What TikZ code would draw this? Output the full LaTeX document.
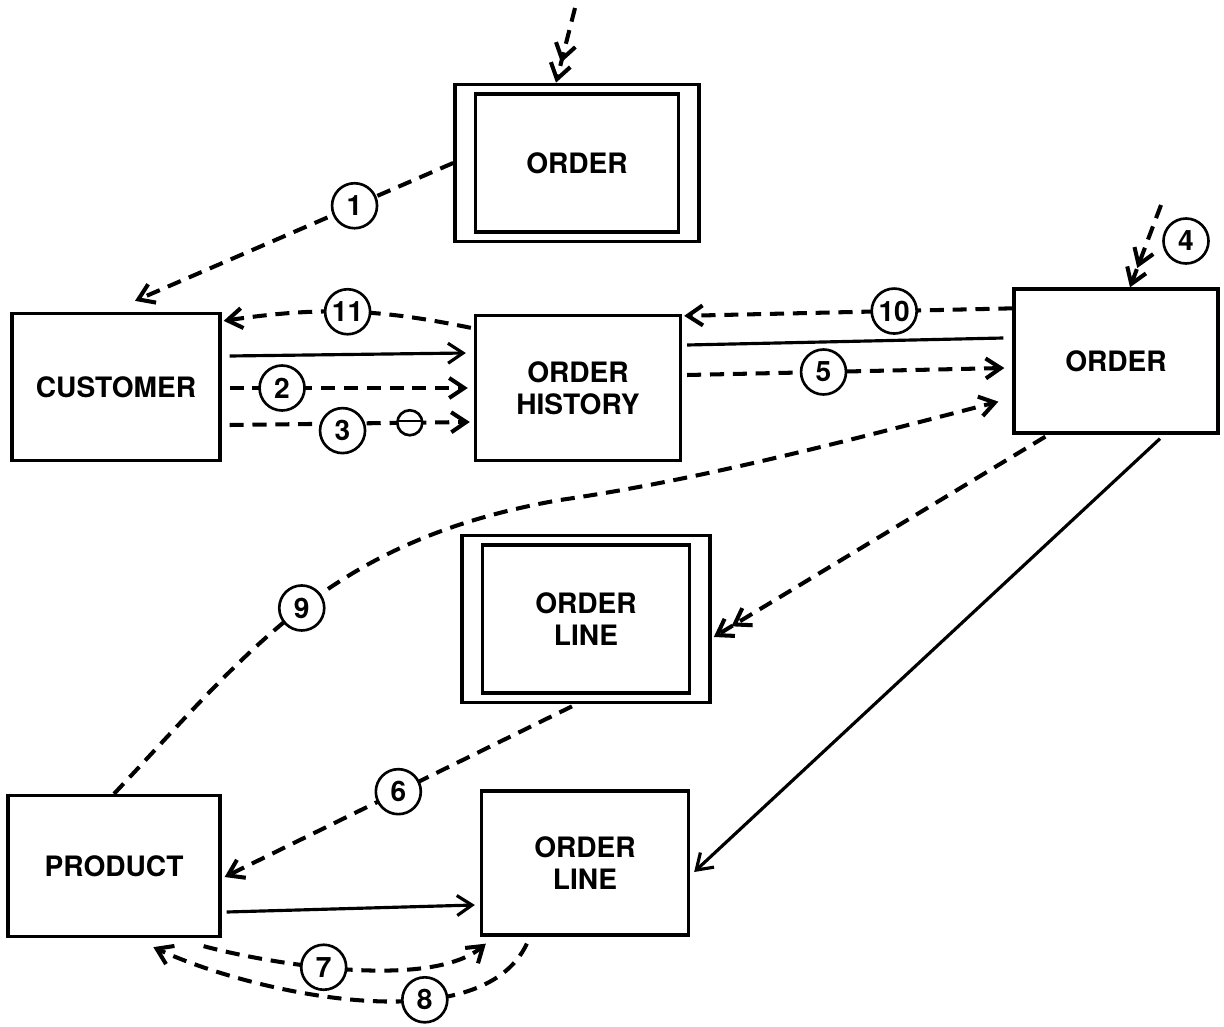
\documentclass[tikz,border=0pt]{standalone}
\usepackage{fontspec}
\setmainfont{TeX Gyre Heros}
\usetikzlibrary{positioning,arrows.meta,calc,fit}

\begin{document}
\begin{tikzpicture}[x=0.02cm, y=-0.02cm,
  entity/.style={rectangle, draw, line width=1.9pt, align=center, inner sep=2pt, font=\fontsize{16}{18}\selectfont\bfseries},
  frame/.style={rectangle, draw, line width=1.9pt, inner xsep=0.38cm, inner ysep=0.16cm},
  tag/.style={circle, draw, solid, line width=1.5pt, fill=white, minimum size=0.9cm, inner sep=0pt, font=\fontsize{16}{18}\selectfont\bfseries},
  bar/.style={circle, draw, solid, line width=1.5pt, fill=white, minimum size=0.5cm, inner sep=0pt,
    path picture={\draw[-, solid, line width=1.5pt] ([yshift=1pt]path picture bounding box.west) -- ([yshift=1pt]path picture bounding box.east);}},
  link/.style={line width=1.8pt},
  dlink/.style={line width=2.3pt, dash pattern=on 8pt off 5pt},
  onehead/.style={-{Straight Barb[length=3mm,width=4mm]}},
  twohead/.style={-{Straight Barb[length=3mm,width=4mm] Straight Barb[length=3mm,width=4mm]}}]

  \useasboundingbox (0,0) rectangle (1224,1027);

  % entity boxes
  \node[entity, minimum width=4.06cm, minimum height=2.76cm] (ordtop) at (577,163) {ORDER};
  \node[frame, fit=(ordtop)] (ordtopx) {};
  \node[entity, minimum width=4.16cm, minimum height=2.94cm] (cust) at (116,387) {CUSTOMER};
  \node[entity, minimum width=4.1cm, minimum height=2.9cm] (hist) at (578,388) {ORDER\\HISTORY};
  \node[entity, minimum width=4.08cm, minimum height=2.88cm] (ordr) at (1116,361) {ORDER};
  \node[entity, minimum width=4.14cm, minimum height=2.96cm] (linetop) at (586,619) {ORDER\\LINE};
  \node[frame, fit=(linetop)] (linetopx) {};
  \node[entity, minimum width=4.24cm, minimum height=2.82cm] (prod) at (114,866) {PRODUCT};
  \node[entity, minimum width=4.14cm, minimum height=2.88cm] (line) at (585,863) {ORDER\\LINE};

  % entry points
  \coordinate (inA) at (575,8);
  \coordinate (inB) at (1161,205);

  \draw[dlink, twohead] (inA) -- ($(ordtopx.north)+(-21,0)$);
  \draw[dlink, onehead] (ordtopx.west) -- ($(cust.north)+(19,-11)$) node[tag, pos=.31] (t1) {1};

  \draw[dlink, twohead] (inB) -- ($(ordr.north)+(14,0)$);
  \node[tag] (t4) at (1186,241) {4};

  % order history row
  \draw[dlink, onehead] ($(ordr.north west)+(0,21)$) -- ($(hist.north east)+(2,2)$) node[tag, pos=.36] (t10) {10};
  \draw[link] ($(hist.east)+(5,-43)$) -- ($(ordr.west)+(-9,-23)$);
  \draw[dlink, onehead] ($(hist.east)+(5,-13)$) -- ($(ordr.west)+(-8,7)$) node[tag, pos=.43] (t5) {5};

  \draw[dlink, onehead] ($(hist.north west)+(-3,14)$) to[bend right=10] node[tag, pos=.5] (t11) {11} ($(cust.north east)+(2,9)$);
  \draw[link, onehead] ($(cust.east)+(8,-31)$) -- ($(hist.west)+(-8,-35)$);
  \draw[dlink, onehead] ($(cust.east)+(8,1)$) -- ($(hist.west)+(-6,0)$) node[tag, pos=.22] (t2) {2};
  \draw[dlink, onehead] ($(cust.east)+(8,38)$) -- ($(hist.west)+(-4,34)$)
    node[tag, pos=.47, yshift=-4pt] (t3) {3} node[bar, pos=.75] (n3) {};

  % product to order
  \draw[dlink, onehead] (prod.north) .. controls (250,650) and (330,540) .. (560,500)
    node[tag, pos=.5] (t9) {9}
    .. controls (700,480) and (850,440) .. ($(ordr.south west)+(-14,-33)$);

  % order lines
  \draw[dlink, twohead] ($(ordr.south west)+(33,2)$) -- ($(linetopx.east)+(2,18)$);
  \draw[link, onehead] ($(ordr.south)+(44,4)$) -- ($(line.east)+(4,9)$);
  \draw[dlink, onehead] ($(linetopx.south)+(-14,2)$) -- ($(prod.east)+(3,11)$) node[tag, pos=.5] (t6) {6};
  \draw[link, onehead] ($(prod.east)+(5,46)$) -- ($(line.west)+(-5,42)$);
  \draw[dlink, onehead] ($(prod.south east)+(-18,8)$) to[out=-15, in=-140, looseness=.65]
    node[tag, pos=.42] (t7) {7} ($(line.south west)+(6,7)$);
  \draw[dlink, onehead] ($(line.south west)+(47,7)$) to[out=-115, in=-25, looseness=.75]
    node[tag, pos=.35] (t8) {8} ($(prod.south west)+(147,9)$);
\end{tikzpicture}
\end{document}
